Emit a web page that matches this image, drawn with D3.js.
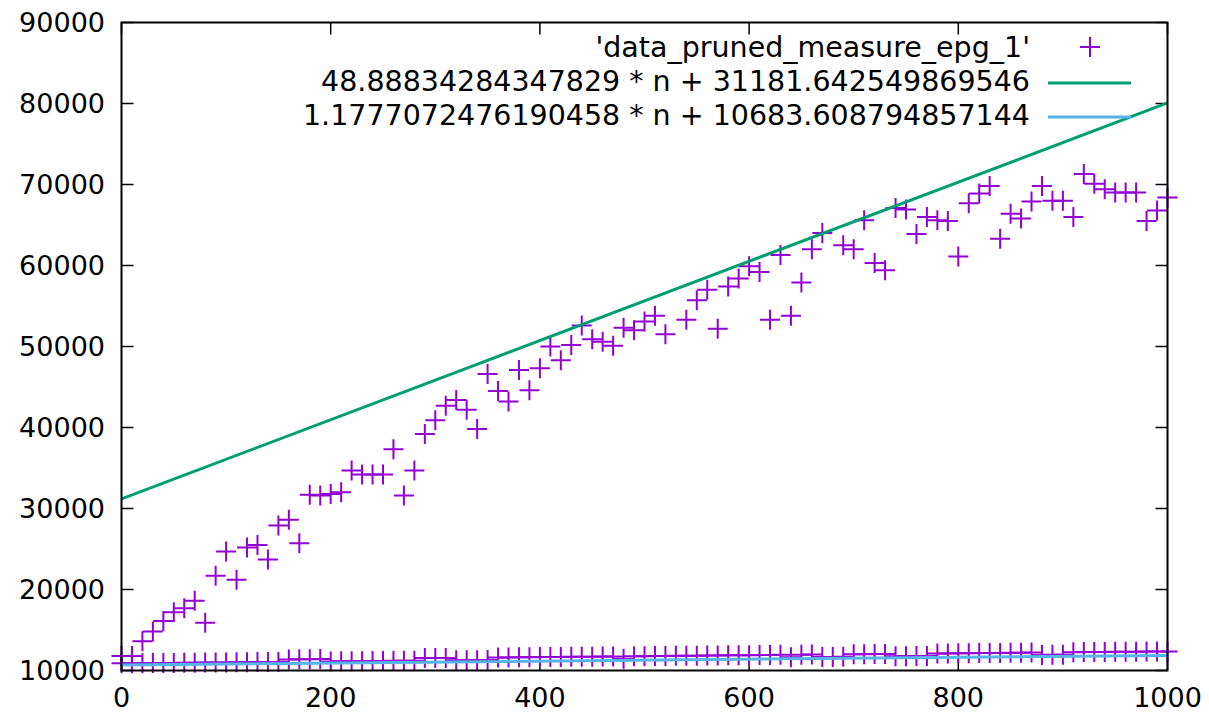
<!DOCTYPE html>
<html>
<head>
<meta charset="utf-8">
<script src="https://cdn.jsdelivr.net/npm/d3@7"></script>
<style>
  html, body { margin: 0; padding: 0; background: #fff; }
  svg { display: block; }
  text { font-family: "DejaVu Sans", sans-serif; fill: #000; }
</style>
</head>
<body>
<svg id="chart" width="1209" height="717"></svg>
<script>
// ---- data ----
const xTicks = [0, 200, 400, 600, 800, 1000];
const yTicks = [10000, 20000, 30000, 40000, 50000, 60000, 70000, 80000, 90000];

const upperN = [0,10,20,30,40,50,60,70,80,90,100,110,120,130,140,150,160,170,180,190,
  200,210,220,230,240,250,260,270,280,290,300,310,320,330,340,350,360,370,380,390,
  400,410,420,430,440,450,460,470,480,490,500,510,520,540,550,560,570,580,590,
  600,610,620,630,640,650,660,670,690,700,710,720,730,740,750,760,770,780,790,
  800,810,820,830,840,850,860,870,880,890,900,910,920,930,940,950,960,970,980,990,1000];
const upperV = [11800,11800,13600,14800,16100,17200,17700,18600,15900,21700,24700,21200,25200,25500,23700,27900,28600,25700,31700,31600,
  31800,32000,34700,34200,34200,34200,37300,31600,34700,39200,40900,42700,43400,42200,39800,46600,44500,43200,47100,44600,
  47300,50000,48300,50200,52600,50900,50600,50100,52300,52000,53100,53800,51500,53300,55700,57000,52200,57400,58400,
  59900,59200,53300,61300,53800,57900,62000,64000,62500,62000,65600,60300,59400,67100,66900,63900,66000,65600,65500,
  61100,67700,68900,69800,63300,66400,65800,67900,69800,68000,68000,66000,71300,70100,69400,69000,69000,69000,65500,66800,68400];

const lowerN = [0,10,20,30,40,50,60,70,80,90,100,110,120,130,140,150,160,170,180,190,
  200,210,220,230,240,250,260,270,280,290,300,310,320,330,340,350,360,370,380,390,
  400,410,420,430,440,450,460,470,480,490,500,510,520,530,540,550,560,570,580,590,
  600,610,620,630,640,650,660,670,680,690,700,710,720,730,740,750,760,770,780,790,
  800,810,820,830,840,850,860,870,880,890,900,910,920,930,940,950,960,970,980,990,1000];
const lowerV = [10880,10900,10910,10920,10930,10940,10950,10970,10980,10990,11000,11010,11030,11040,11050,11060,11370,11380,11400,11410,
  11120,11130,11140,11150,11170,11180,11190,11200,11210,11530,11540,11550,11260,11270,11280,11300,11610,11620,11630,11640,
  11660,11670,11680,11690,11700,11710,11730,11740,11450,11760,11770,11780,11800,11810,11820,11830,11840,11860,11870,11880,
  11890,11900,11910,11930,11640,11950,11960,11670,11680,11700,12010,12020,12030,12040,11760,11770,11780,11790,12100,12110,
  12130,12140,12150,12160,12170,12190,12200,12210,11920,11930,11940,12260,12270,12280,12290,12300,12310,12330,12340,12350,12360];

const fitLabels = ["48.88834284347829 * n + 31181.642549869546", "1.1777072476190458 * n + 10683.608794857144"];
const fitSlopes = [48.88834284347829, 1.1777072476190458];
const fitIntercepts = [31181.642549869546, 10683.608794857144];
const fitColors = ["#009e73", "#56b4e9"];
const pointLabel = "'data_pruned_measure_epg_1'";
const pointColor = "#9400d3";

// ---- layout ----
const svg = d3.select("#chart");
const L = 121.5, R = 1167.5, T = 22.5, B = 670.5;
const x = d3.scaleLinear().domain([0, 1000]).range([L, R]);
const y = d3.scaleLinear().domain([10000, 90000]).range([B, T]);
const FS = 27, LFS = 28.5;

// clip for fit lines
svg.append("defs").append("clipPath").attr("id", "plotclip")
  .append("rect").attr("x", L).attr("y", T).attr("width", R - L).attr("height", B - T);

// ticks (all four sides, inward)
const tickLen = 12;
const tg = svg.append("g").attr("stroke", "#000").attr("stroke-width", 1.5);
yTicks.forEach(v => {
  tg.append("line").attr("x1", L).attr("x2", L + tickLen).attr("y1", y(v)).attr("y2", y(v));
  tg.append("line").attr("x1", R).attr("x2", R - tickLen).attr("y1", y(v)).attr("y2", y(v));
});
xTicks.forEach(v => {
  tg.append("line").attr("x1", x(v)).attr("x2", x(v)).attr("y1", B).attr("y2", B - tickLen);
  tg.append("line").attr("x1", x(v)).attr("x2", x(v)).attr("y1", T).attr("y2", T + tickLen);
});

// tick labels
svg.append("g").selectAll("text").data(yTicks).join("text")
  .attr("x", 105).attr("y", d => y(d)).attr("text-anchor", "end")
  .attr("dominant-baseline", "central").attr("font-size", FS).text(d => d);
svg.append("g").selectAll("text").data(xTicks).join("text")
  .attr("x", d => x(d)).attr("y", 697).attr("text-anchor", "middle")
  .attr("dominant-baseline", "central").attr("font-size", FS).text(d => d);

// points
const S = 10;
function cross(g, cx, cy) {
  g.append("path").attr("d", `M${cx - S},${cy}H${cx + S}M${cx},${cy - S}V${cy + S}`);
}
const pg = svg.append("g").attr("stroke", pointColor).attr("stroke-width", 2).attr("fill", "none");
upperN.forEach((n, i) => cross(pg, x(n), y(upperV[i])));
lowerN.forEach((n, i) => cross(pg, x(n), y(lowerV[i])));

// fit lines
const lg = svg.append("g").attr("clip-path", "url(#plotclip)");
fitSlopes.forEach((a, i) => {
  const line = d3.line().x(d => x(d)).y(d => y(a * d + fitIntercepts[i]));
  lg.append("path").datum([0, 1000]).attr("d", line)
    .attr("stroke", fitColors[i]).attr("stroke-width", 3).attr("fill", "none");
});

// frame
svg.append("rect").attr("x", L).attr("y", T).attr("width", R - L).attr("height", B - T)
  .attr("fill", "none").attr("stroke", "#000").attr("stroke-width", 2);

// legend
const legX = 1030, rows = [47, 81, 115];
const leg = svg.append("g");
leg.append("text").attr("x", legX).attr("y", rows[0]).attr("text-anchor", "end")
  .attr("dominant-baseline", "central").attr("font-size", LFS).text(pointLabel);
const lpg = leg.append("g").attr("stroke", pointColor).attr("stroke-width", 2);
cross(lpg, 1090, rows[0]);
fitLabels.forEach((t, i) => {
  leg.append("text").attr("x", legX).attr("y", rows[i + 1]).attr("text-anchor", "end")
    .attr("dominant-baseline", "central").attr("font-size", LFS).text(t);
  leg.append("line").attr("x1", 1048).attr("x2", 1131).attr("y1", rows[i + 1] + 2).attr("y2", rows[i + 1] + 2)
    .attr("stroke", fitColors[i]).attr("stroke-width", 3);
});
</script>
</body>
</html>
